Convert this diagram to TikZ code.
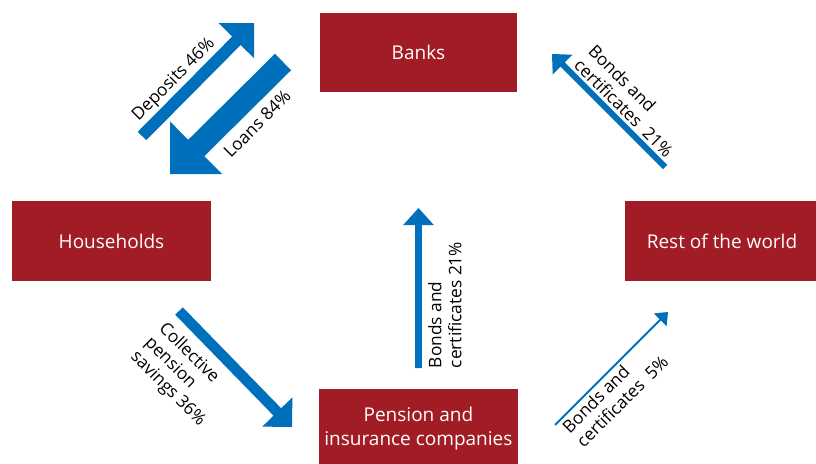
\documentclass[tikz,border=0pt]{standalone}
\usepackage{fontspec}
\setmainfont{Open Sans}
\usetikzlibrary{calc}
\definecolor{boxred}{RGB}{161,28,36}
\definecolor{flowblue}{RGB}{0,112,188}
\newcommand\boxfont{\fontsize{19}{24.5}\selectfont}
\newcommand\lblfont{\fontsize{17.3}{20}\selectfont}
% #1 start, #2 end, #3 half shaft width, #4 half head width, #5 head length
\newcommand\myarrow[5]{%
  \coordinate (fa-c) at ($(#2)!#5!(#1)$);
  \fill[flowblue] ($(#1)!#3!90:(#2)$) -- ($(fa-c)!#3!90:(#2)$) -- ($(fa-c)!#4!90:(#2)$) -- (#2)
    -- ($(fa-c)!#4!-90:(#2)$) -- ($(fa-c)!#3!-90:(#2)$) -- ($(#1)!#3!-90:(#2)$) -- cycle;}
\begin{document}
\begin{tikzpicture}[x=1pt,y=-1pt,
  box/.style={fill=boxred, text=white, inner sep=0pt, align=center, font=\boxfont},
  lbl/.style={inner sep=0pt, align=left, font=\lblfont, text=black}]
\useasboundingbox[fill=white] (0,0) rectangle (816,463);
% boxes
\node[box, minimum width=197pt, minimum height=79pt] (banks) at (418.5,52.5) {Banks};
\node[box, minimum width=198.4pt, minimum height=80pt] (house) at (111.5,241) {Households};
\node[box, minimum width=194pt, minimum height=80pt] (world) at (722,241) {Rest of the world};
\node[box, minimum width=198.7pt, minimum height=79pt] (pension) at (418.4,428.5) {Pension and\\insurance companies};
% arrow end points
\coordinate (dep-s) at (142,136);   \coordinate (dep-e) at (254,23);
\coordinate (loan-s) at (283,62);   \coordinate (loan-e) at (170,174);
\coordinate (rw-s) at (665,167);    \coordinate (rw-e) at (552,54);
\coordinate (pb-s) at (418.5,368);  \coordinate (pb-e) at (418.5,208);
\coordinate (coll-s) at (179,311);  \coordinate (coll-e) at (292,427);
\coordinate (pw-s) at (555,425);    \coordinate (pw-e) at (668,312);
% arrows
\myarrow{dep-s}{dep-e}{6pt}{25pt}{25pt}
\myarrow{loan-s}{loan-e}{11.5pt}{37pt}{37pt}
\myarrow{rw-s}{rw-e}{3pt}{14pt}{15pt}
\myarrow{pb-s}{pb-e}{3.3pt}{15.3pt}{17pt}
\myarrow{coll-s}{coll-e}{5.3pt}{21pt}{21pt}
\myarrow{pw-s}{pw-e}{0.9pt}{9pt}{11pt}
% labels
\node[lbl, rotate=45] (l-dep) at (174,80) {Deposits 46\%};
\node[lbl, rotate=45] (l-loan) at (257,124) {Loans 84\%};
\node[lbl, rotate=-45] (l-rw) at (631,101) {Bonds and\\certificates\ \ 21\%};
\node[lbl, rotate=90] (l-pb) at (445,305) {Bonds and\\certificates 21\%};
\node[lbl, rotate=-45] (l-coll) at (182,375) {Collective\\pension\\savings 36\%};
\node[lbl, rotate=45] (l-pw) at (615,394) {Bonds and\\certificates\ \ 5\%};
\end{tikzpicture}
\end{document}
